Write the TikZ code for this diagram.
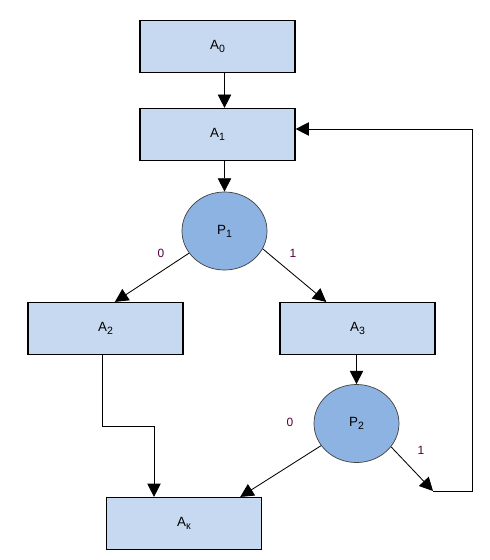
\documentclass[tikz,border=0pt]{standalone}
\usepackage{fontspec}
\setmainfont{Liberation Sans}
\usepackage{tikz}
\usetikzlibrary{shapes}
\usetikzlibrary{arrows.meta}
\usetikzlibrary{calc}

\definecolor{boxblue}{HTML}{C6D9F0}
\definecolor{decblue}{HTML}{8DB3E2}
\definecolor{lblcol}{HTML}{50003C}

\newcommand{\idx}[1]{\raisebox{-0.45ex}{\fontsize{7.5}{9}\selectfont #1}}

\tikzset{
	block/.style={draw=black, line width=0.8pt, fill=boxblue, minimum width=3.875cm, minimum height=1.3cm, inner sep=0pt, font=\fontsize{9.5}{11}\selectfont},
	decision/.style={ellipse, draw=black!75, line width=0.5pt, fill=decblue, minimum width=2.125cm, minimum height=1.95cm, inner sep=0pt, font=\fontsize{9.5}{11}\selectfont},
	arr/.style={draw=black, line width=0.6pt, -{Triangle[length=9.5pt,width=9.5pt]}},
	wire/.style={draw=black, line width=0.6pt},
	lbl/.style={text=lblcol, font=\fontsize{8.5}{10}\selectfont}
}

\begin{document}
\begin{tikzpicture}[x=0.025cm, y=-0.025cm]
		\useasboundingbox (0,0) rectangle (490,560);

		\node[block] (a0) at (217.5, 46.5) {A\idx{0}};
		\node[block] (a1) at (217.5, 134.5) {A\idx{1}};
		\node[decision] (p1) at (224.5, 231) {P\idx{1}};
		\node[block] (a2) at (105.5, 328.5) {A\idx{2}};
		\node[block] (a3) at (357.5, 328.5) {A\idx{3}};
		\node[decision] (p2) at (356.5, 423.5) {P\idx{2}};
		\node[block] (ak) at (184, 523.5) {A\idx{к}};

		\draw[arr] (a0.south -| p1) -- (a1.north -| p1);
		\draw[arr] (a1.south -| p1) -- (p1.north);

		% branches of P1
		\draw[arr] (p1.212) -- ($(a2.north west)!0.56!(a2.north east)$);
		\draw[arr] (p1.335) -- ($(a3.north west)!0.30!(a3.north east)$);
		\node[lbl] (p1no) at (161, 253) {0};
		\node[lbl] (p1yes) at (293, 253) {1};

		\draw[arr] (a3.south -| p2) -- (p2.north);

		% A2 down to Ak
		\coordinate (k1) at (102, 426);
		\coordinate (k2) at (154, 426);
		\draw[arr] (k1 |- a2.south) -- (k1) -- (k2) -- (k2 |- ak.north);

		% branches of P2
		\draw[arr] (p2.212) -- ($(ak.north west)!0.86!(ak.north east)$);
		\coordinate (fb1) at (433, 491);
		\coordinate (fb2) at (472, 491);
		\coordinate (fb3) at (472, 129);
		\draw[arr] (p2.326) -- (fb1);
		\node[lbl] (p2no) at (290, 422) {0};
		\node[lbl] (p2yes) at (421, 450) {1};

		% back to A1
		\draw[wire] (fb1) -- (fb2) -- (fb3);
		\draw[arr] (fb3) -- (fb3 -| a1.east);
	\end{tikzpicture}
\end{document}
